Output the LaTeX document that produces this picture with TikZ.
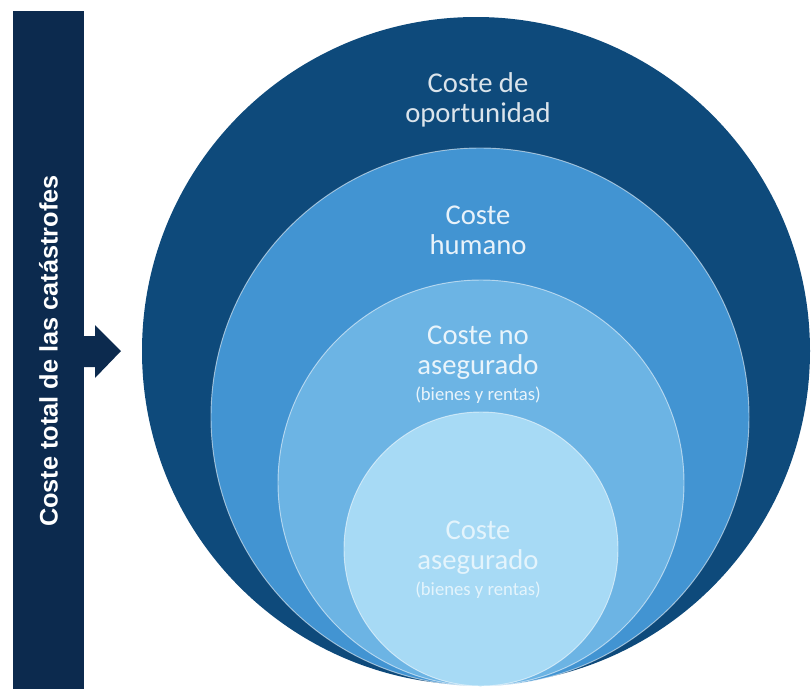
\documentclass[tikz,border=0pt]{standalone}
\usepackage{fontspec}
\setmainfont{Carlito}
\newfontfamily\barfont{Liberation Sans}
\usetikzlibrary{positioning}

\definecolor{barNavy}{HTML}{0C2A4E}
\definecolor{ringOne}{HTML}{0E4A7B}
\definecolor{ringTwo}{HTML}{4294D2}
\definecolor{ringThree}{HTML}{6CB4E4}
\definecolor{ringFour}{HTML}{A7DAF5}
\newcommand{\rentasSize}{\fontsize{14}{15}\selectfont}

\begin{document}
\begin{tikzpicture}[x=0.75pt,y=-0.75pt,
		ring/.style={circle,inner sep=0pt,draw=white,draw opacity=0.55,line width=0.7pt},
		ringText/.style={align=center,inner sep=0pt,font=\fontsize{21.5}{22.5}\selectfont}]
	\useasboundingbox (0,0) rectangle (811,689);

	% barra y flecha
	\fill[barNavy] (13,11) rectangle (84,689);
	\coordinate (bar) at (48.5,351);
	\node[rotate=90,text=white,font=\barfont\bfseries\fontsize{19}{22}\selectfont] (total) at (bar) {Coste total de las catástrofes};
	\fill[barNavy] (83,336) -- (95,336) -- (95,325) -- (121,351) -- (95,378) -- (95,367) -- (83,367) -- cycle;

	% circulos
	\node[ring,draw=none,fill=ringOne,minimum size=501pt] (oportunidad) at (476,351) {};
	\node[ring,fill=ringTwo,minimum size=403.5pt] (humano) at (480,417) {};
	\node[ring,fill=ringThree,minimum size=304.5pt] (noAsegurado) at (481,483) {};
	\node[ring,fill=ringFour,minimum size=205.5pt] (asegurado) at (481,549) {};

	% textos
	\node[ringText,text=white!85!ringOne] (tOportunidad) at (478,100) {Coste de\\oportunidad};
	\node[ringText,text=white!88!ringTwo] (tHumano) at (478,230) {Coste\\humano};
	\node[ringText,text=white!85!ringThree] (tNoAsegurado) at (478,365) {Coste no\\asegurado\\[-3pt]{\rentasSize (bienes y rentas)}};
	\node[ringText,text=white!70!ringFour] (tAsegurado) at (478,560) {Coste\\asegurado\\[-3pt]{\rentasSize (bienes y rentas)}};
\end{tikzpicture}
\end{document}
